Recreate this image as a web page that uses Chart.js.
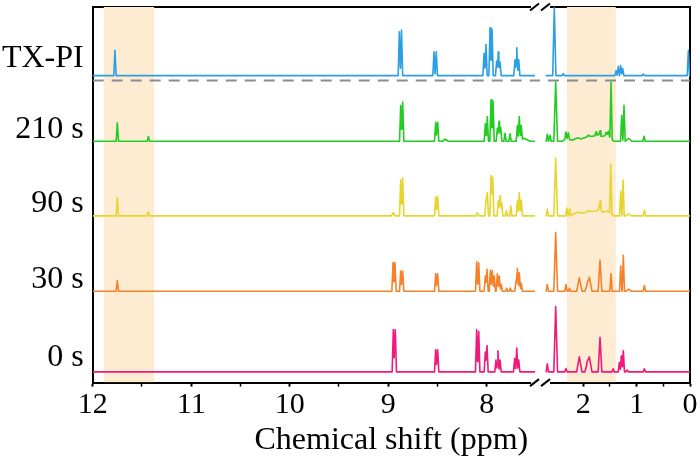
<!DOCTYPE html>
<html>
<head>
<meta charset="utf-8">
<script src="https://cdn.jsdelivr.net/npm/chart.js@4/dist/chart.umd.min.js"></script>
<style>
html,body{margin:0;padding:0;background:#fff;}
#wrap{width:700px;height:473px;position:relative;}
</style>
</head>
<body>
<div id="wrap"><canvas id="c"></canvas></div>
<script>
// ---------------- data ----------------
const spectrumNames = ['TX-PI', '210 s', '90 s', '30 s', '0 s'];
const labelLevels   = [322.2, 252.2, 178, 103, 24.8];   // y position of the row labels
const baselines     = [305.7, 240.3, 166, 91, 10.7];    // vertical offset of each spectrum
const refLineLevel  = 300.7;                            // dashed separator
const seriesColors  = ['#2a9fe3', '#22cc22', '#e6d52e', '#f5822a', '#ee1a7c'];

const leftAxisRange  = [7.459, 12];   // ppm shown on the left part of the broken axis
const rightAxisRange = [0, 2.812];    // ppm shown on the right part
const leftDataRange  = [7.51, 12];
const rightDataRange = [0, 2.705];
const leftTicks  = [12, 11.5, 11, 10.5, 10, 9.5, 9, 8.5, 8];
const rightTicks = [2, 1.5, 1, 0.5, 0];
const bandLeft  = [11.375, 11.89];
const bandRight = [1.39, 2.31];

// peaks: [ppm, height above baseline, optional half width in ppm]
const peaksTXPI_L = [[11.774,25.3],[8.887,43.6],[8.865,45.3],[8.535,23.6],[8.512,23.6],
  [8.027,22],[8.007,31],[7.966,47.6],[7.946,46],[7.899,14.6],[7.882,23.6],[7.865,13.6],
  [7.713,16],[7.695,27.6],[7.675,16]];
const peaksTXPI_R = [[2.544,67.5,0.03],[2.375,2],[1.386,5],[1.343,9.3],[1.299,10],[1.261,7],
  [0.874,1.5],[0.03,25.3]];

const peaks210_L = [[11.75,18.4],[11.435,4.7],[8.873,35.7],[8.853,39],[8.518,19],[8.498,19],
  [8.42,2,0.03],[8.014,17.4],[7.994,24.7],[7.956,41.4],[7.936,40],[7.892,13],[7.875,20],
  [7.858,14],[7.814,8],[7.763,7.4],[7.689,15.7],[7.669,24],[7.649,14],[7.62,3,0.06]];
const peaks210_R = [[2.675,7],[2.625,6],[2.518,59,0.035],[2.325,7],[2.28,6],
  [2.3,3,0.1],[2.1,3.5,0.15],[1.9,6,0.15],[1.72,7,0.15],[1.55,7,0.12],
  [1.762,4],[1.687,5],[1.574,3],[1.53,4],[1.48,56],[1.28,25.7],[1.237,35.7],[1.15,3,0.06],
  [0.861,5]];

const peaks90_L = [[11.75,17.7],[11.435,4],[8.948,3.3,0.02],[8.873,36],[8.853,37.7],[8.518,19],
  [8.498,19],[8.095,3,0.015],[8.007,16.7],[7.994,23.3],[7.956,40],[7.939,38.3],[7.882,15],
  [7.865,20],[7.848,13],[7.80,5],[7.756,10],[7.689,15],[7.669,23.3],[7.649,15.7]];
const peaks90_R = [[2.675,6.7],[2.518,57.7,0.035],[2.31,7.7],[2.26,6.7],
  [2.1,4,0.15],[1.9,5.5,0.15],[1.72,6,0.15],[1.55,5,0.12],
  [1.687,10,0.03],[1.486,49],[1.299,24.3],[1.255,35.7],[1.15,2,0.05],[0.856,5.7]];

const peaks30_L = [[11.75,10.7],[8.951,28.3],[8.931,28.3],[8.873,20],[8.853,20],[8.518,17.3],
  [8.498,17.3],[8.102,29.3],[8.081,28.3],[8.014,15],[7.997,21.7],[7.963,20.7],[7.943,20.7],
  [7.923,15],[7.892,17.3],[7.872,15],[7.852,6.7],[7.797,3],[7.76,3],[7.703,10],[7.689,22.7],
  [7.669,18.3],[7.649,8]];
const peaks30_R = [[2.675,6.7],[2.518,58.3,0.035],[2.325,6.7],[2.26,3],[2.075,13.3,0.05],
  [1.93,6,0.04],[1.887,14,0.05],[1.687,31,0.035],[1.48,17.3],[1.299,25],[1.25,35.7],
  [1.15,2,0.05],[0.856,5.7]];

const peaks0_L = [[8.948,42],[8.928,42],[8.518,22],[8.498,22],[8.102,42],[8.081,40.3],
  [8.014,19.7],[7.997,26.3],[7.906,11.7],[7.886,21],[7.865,11.7],[7.716,13.3],[7.695,23.7],
  [7.675,11.7]];
const peaks0_R = [[2.675,8],[2.518,65,0.035],[2.325,3.3],[2.075,15,0.05],[1.93,8,0.04],
  [1.887,15,0.05],[1.687,34.3,0.035],[1.44,3],[1.325,9.3],[1.287,16],[1.25,21],[1.18,2],
  [0.856,3]];

const leftPeakSets  = [peaksTXPI_L, peaks210_L, peaks90_L, peaks30_L, peaks0_L];
const rightPeakSets = [peaksTXPI_R, peaks210_R, peaks90_R, peaks30_R, peaks0_R];

// ---------------- build line tables ----------------
function buildLine(peaks, range, base, defHW) {
  const xs = new Set([range[0], range[1]]);
  peaks.forEach(p => { const w = p[2] || defHW; xs.add(p[0] - w); xs.add(p[0]); xs.add(p[0] + w); });
  const sorted = [...xs].filter(x => x >= range[0] && x <= range[1]).sort((a, b) => b - a);
  return sorted.map(x => ({
    x,
    y: base + peaks.reduce((s, p) => {
      const w = p[2] || defHW; const d = Math.abs(x - p[0]);
      return s + (d < w ? p[1] * (1 - d / w) : 0);
    }, 0)
  }));
}

const datasets = [];
spectrumNames.forEach((name, i) => {
  const common = { borderColor: seriesColors[i], borderWidth: 1.6, pointRadius: 0, fill: false,
    tension: 0, borderJoinStyle: 'round', yAxisID: 'y', order: 0 };
  datasets.push(Object.assign({ label: name, xAxisID: 'xL',
    data: buildLine(leftPeakSets[i], leftDataRange, baselines[i], 0.012) }, common));
  datasets.push(Object.assign({ label: name + ' (aliphatic)', xAxisID: 'xR',
    data: buildLine(rightPeakSets[i], rightDataRange, baselines[i], 0.022) }, common));
});
// dashed separator
datasets.push({ label: 'sep L', xAxisID: 'xL', yAxisID: 'y', order: 1,
  data: [{ x: leftAxisRange[1], y: refLineLevel }, { x: leftAxisRange[0], y: refLineLevel }],
  borderColor: '#8c8c8c', borderWidth: 2, borderDash: [11, 8], pointRadius: 0, fill: false });
datasets.push({ label: 'sep R', xAxisID: 'xR', yAxisID: 'y', order: 1,
  data: [{ x: rightAxisRange[1], y: refLineLevel }, { x: rightAxisRange[0], y: refLineLevel }],
  borderColor: '#8c8c8c', borderWidth: 2, borderDash: [11, 8], borderDashOffset: 11, pointRadius: 0, fill: false });
// highlight bands
datasets.push({ label: 'band L', xAxisID: 'xL', yAxisID: 'y', order: 10,
  data: [{ x: bandLeft[1], y: 374 }, { x: bandLeft[0], y: 374 }],
  borderWidth: 0, pointRadius: 0, fill: 'start', backgroundColor: '#fdecd2' });
datasets.push({ label: 'band R', xAxisID: 'xR', yAxisID: 'y', order: 10,
  data: [{ x: bandRight[1], y: 374 }, { x: bandRight[0], y: 374 }],
  borderWidth: 0, pointRadius: 0, fill: 'start', backgroundColor: '#fdecd2' });

// ---------------- chart ----------------
const serif = 'Liberation Serif';
const tickFont = { family: serif, size: 30, weight: 'normal' };
const rowFont = { family: serif, size: 32, weight: 'normal' };
const leftWeight = 447.3, rightWeight = 150;

function bottomAxis(range, ticksArr, weight) {
  return {
    type: 'linear', position: 'bottom', stack: 'bx', stackWeight: weight,
    min: range[0], max: range[1], reverse: true, offset: false,
    afterBuildTicks: s => { s.ticks = ticksArr.map(v => ({ value: v })); },
    afterFit: s => { s.height = 39; },
    ticks: { callback: v => (Number.isInteger(v) ? String(v) : ''), font: tickFont, color: '#000',
      padding: 1, maxRotation: 0, autoSkip: false },
    grid: { drawOnChartArea: false, drawTicks: true, tickLength: 4, tickColor: '#000',
      tickWidth: c => (c.tick && Number.isInteger(c.tick.value) ? 2 : 1.5) },
    border: { display: true, color: '#000', width: 2 }
  };
}
function topAxis(range, weight) {
  return {
    type: 'linear', position: 'top', stack: 'tx', stackWeight: weight,
    min: range[0], max: range[1], reverse: true,
    afterFit: s => { s.height = 0; s.paddingLeft = 0; s.paddingRight = 0; },
    ticks: { display: false }, grid: { display: false, drawTicks: false },
    border: { display: true, color: '#000', width: 2 }
  };
}

const breakPlugin = {
  id: 'axisBreak',
  afterDraw(chart) {
    const ctx = chart.ctx, a = chart.chartArea;
    const bx = chart.scales.xL.right;
    ctx.save();
    ctx.fillStyle = '#fff';
    ctx.fillRect(bx - 9, a.bottom - 2, 19, 4);
    ctx.fillRect(bx - 9, a.top - 2, 19, 4);
    ctx.strokeStyle = '#000';
    ctx.lineWidth = 2;
    [a.top, a.bottom].forEach(yy => {
      [-5.5, 5.5].forEach(dx => {
        ctx.beginPath();
        ctx.moveTo(bx + dx - 4.5, yy + 3.5);
        ctx.lineTo(bx + dx + 4.5, yy - 3.5);
        ctx.stroke();
      });
    });
    ctx.restore();
  }
};

new Chart(document.getElementById('c'), {
  type: 'line',
  data: { datasets },
  plugins: [breakPlugin],
  options: {
    responsive: true, maintainAspectRatio: false, animation: false, devicePixelRatio: 1,
    layout: { padding: { top: 7, right: 10, left: 0, bottom: 0 } },
    plugins: {
      legend: { display: false }, tooltip: { enabled: false },
      title: { display: true, text: 'Chemical shift (ppm)', position: 'bottom', fullSize: false,
        font: { family: serif, size: 32, weight: 'normal' }, color: '#000',
        padding: { top: 0, bottom: 13 } }
    },
    scales: {
      xL: bottomAxis(leftAxisRange, leftTicks, leftWeight),
      xR: bottomAxis(rightAxisRange, rightTicks, rightWeight),
      xLt: topAxis(leftAxisRange, leftWeight),
      xRt: topAxis(rightAxisRange, rightWeight),
      y: {
        type: 'linear', position: 'left', min: 0, max: 374,
        afterBuildTicks: s => { s.ticks = labelLevels.map(v => ({ value: v })); },
        afterFit: s => { s.width = 92.7; s.paddingTop = 0; s.paddingBottom = 0; },
        ticks: { callback: (v, i) => spectrumNames[i], font: rowFont, color: '#000', padding: 9 },
        grid: { display: false, drawTicks: false },
        border: { display: true, color: '#000', width: 2 }
      },
      yR: {
        type: 'linear', position: 'right', min: 0, max: 374, axis: 'y',
        afterFit: s => { s.width = 0; s.paddingTop = 0; s.paddingBottom = 0; },
        ticks: { display: false }, grid: { display: false, drawTicks: false },
        border: { display: true, color: '#000', width: 2 }
      }
    }
  }
});
</script>
</body>
</html>
